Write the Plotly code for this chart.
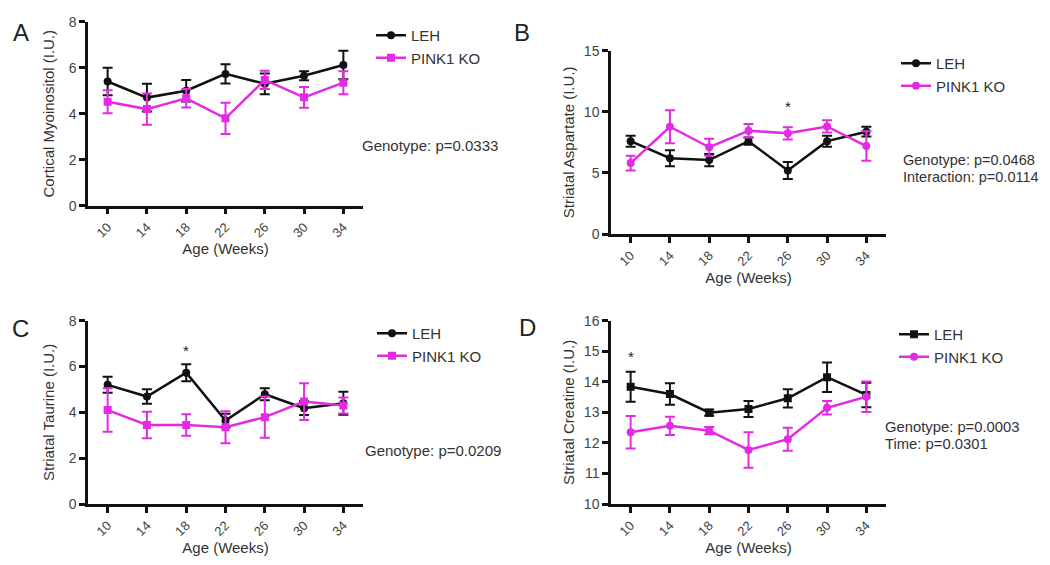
import plotly.graph_objects as go

weeks = [10, 14, 18, 22, 26, 30, 34]

# Panel A: Cortical Myoinositol
a_leh = [5.4, 4.7, 5.0, 5.73, 5.3, 5.65, 6.12]
a_leh_err = [0.6, 0.6, 0.47, 0.42, 0.45, 0.2, 0.62]
a_pink = [4.52, 4.2, 4.67, 3.8, 5.47, 4.71, 5.35]
a_pink_err = [0.5, 0.68, 0.4, 0.68, 0.4, 0.45, 0.5]

# Panel B: Striatal Aspartate
b_leh = [7.6, 6.2, 6.05, 7.6, 5.2, 7.6, 8.37]
b_leh_err = [0.45, 0.65, 0.5, 0.3, 0.7, 0.45, 0.4]
b_pink = [5.8, 8.78, 7.1, 8.45, 8.24, 8.8, 7.2]
b_pink_err = [0.6, 1.35, 0.7, 0.55, 0.5, 0.5, 1.2]

# Panel C: Striatal Taurine
c_leh = [5.2, 4.69, 5.73, 3.64, 4.79, 4.18, 4.4]
c_leh_err = [0.35, 0.32, 0.37, 0.3, 0.26, 0.3, 0.5]
c_pink = [4.1, 3.45, 3.45, 3.35, 3.79, 4.47, 4.3]
c_pink_err = [0.95, 0.58, 0.47, 0.7, 0.9, 0.8, 0.35]

# Panel D: Striatal Creatine
d_leh = [13.84, 13.6, 12.99, 13.11, 13.46, 14.15, 13.57]
d_leh_err = [0.49, 0.35, 0.1, 0.26, 0.3, 0.48, 0.4]
d_pink = [12.35, 12.56, 12.4, 11.77, 12.12, 13.15, 13.51]
d_pink_err = [0.53, 0.3, 0.12, 0.58, 0.38, 0.22, 0.5]

panel_letters = ["A", "B", "C", "D"]
y_titles = ["Cortical Myoinositol (I.U.)", "Striatal Aspartate (I.U.)",
            "Striatal Taurine (I.U.)", "Striatal Creatine (I.U.)"]
y_ranges = [[0, 8], [0, 15], [0, 8], [10, 16]]
y_dticks = [2, 5, 2, 1]
stars = [None, (26, 10.4), (18, 6.7), (10, 14.82)]
stats = [["Genotype: p=0.0333"],
         ["Genotype: p=0.0468", "Interaction: p=0.0114"],
         ["Genotype: p=0.0209"],
         ["Genotype: p=0.0003", "Time: p=0.0301"]]

# page offset (browser body margin) and figure size
OFF = 8
W, H = 1050 - 2 * OFF, 565 - 2 * OFF


def fx(px):
    return (px - OFF) / W


def fy(py):
    return 1 - (py - OFF) / H


BLACK = "#111111"
MAG = "#E32BE3"
TXT = "#333333"
FONT = "Liberation Sans, Arial, sans-serif"

# page-pixel layouts (left, right, top, bottom)
boxes = [(88, 363, 21.7, 205.7), (611, 886, 50.7, 234),
         (88, 363, 320.7, 504), (611, 886, 320.7, 504)]
leh_sym = ["circle", "circle", "circle", "square"]
pink_sym = ["square", "circle", "square", "circle"]
legend_pos = [(371, 19), (896, 47), (372, 317), (894, 318)]
stat_pos = [(360, 145), (901, 160), (363, 450), (883, 427)]
stat_size = [15, 14.5, 15, 14.8]
letter_pos = [(21, 32), (522, 32), (20, 328), (527, 327)]
ytitle_standoff = [11, 6, 11, 6]

data = [(a_leh, a_leh_err, a_pink, a_pink_err),
        (b_leh, b_leh_err, b_pink, b_pink_err),
        (c_leh, c_leh_err, c_pink, c_pink_err),
        (d_leh, d_leh_err, d_pink, d_pink_err)]

fig = go.Figure()
layout = dict(width=W, height=H, margin=dict(l=0, r=0, t=0, b=0, autoexpand=False),
              paper_bgcolor="white", plot_bgcolor="white",
              font=dict(family=FONT, color=TXT, size=14))
annotations = []

for i in range(4):
    n = "" if i == 0 else str(i + 1)
    xa, ya = "x" + n, "y" + n
    leg = "legend" + n
    le, le_e, pk, pk_e = data[i]
    fig.add_trace(go.Scatter(
        x=weeks, y=le, name="LEH", mode="lines+markers", xaxis=xa, yaxis=ya,
        legend=leg, line=dict(color=BLACK, width=2.5),
        marker=dict(color=BLACK, size=8, symbol=leh_sym[i]),
        error_y=dict(type="data", array=le_e, color=BLACK, thickness=2, width=5)))
    fig.add_trace(go.Scatter(
        x=weeks, y=pk, name="PINK1 KO", mode="lines+markers", xaxis=xa, yaxis=ya,
        legend=leg, line=dict(color=MAG, width=2.5),
        marker=dict(color=MAG, size=8, symbol=pink_sym[i]),
        error_y=dict(type="data", array=pk_e, color=MAG, thickness=2, width=5)))

    l, r, t, b = boxes[i]
    layout["xaxis" + n] = dict(
        domain=[fx(l), fx(r)], range=[8, 36], tickvals=weeks,
        ticktext=[str(w) for w in weeks], automargin=False,
        tickangle=-45, showline=True, linecolor=BLACK, linewidth=2.5, ticks="outside",
        ticklen=6, tickwidth=2.5, tickcolor=BLACK, showgrid=False, zeroline=False,
        tickfont=dict(size=13, color="#444444"), anchor=ya,
        title=dict(text="Age (Weeks)", font=dict(size=15, color=TXT), standoff=5))
    layout["yaxis" + n] = dict(
        domain=[fy(b), fy(t)], range=y_ranges[i], dtick=y_dticks[i], showline=True,
        linecolor=BLACK, linewidth=2.5, ticks="outside", ticklen=6, tickwidth=2.5,
        tickcolor=BLACK, showgrid=False, zeroline=False, anchor=xa, automargin=False,
        tickfont=dict(size=14, color="#444444"),
        title=dict(text=y_titles[i], font=dict(size=15, color=TXT),
                   standoff=ytitle_standoff[i]))
    lx, ly = legend_pos[i]
    layout[leg] = dict(x=fx(lx), y=fy(ly), xanchor="left", yanchor="top",
                       bgcolor="rgba(0,0,0,0)", font=dict(size=15, color=TXT),
                       itemwidth=30, tracegroupgap=0)
    sx, sy = stat_pos[i]
    for k, line in enumerate(stats[i]):
        annotations.append(dict(text=line, x=fx(sx), y=fy(sy + 17 * k),
                                xref="paper", yref="paper", xanchor="left",
                                yanchor="middle", align="left", showarrow=False,
                                font=dict(size=stat_size[i], color=TXT)))
    px, py = letter_pos[i]
    annotations.append(dict(text=panel_letters[i], x=fx(px), y=fy(py),
                            xref="paper", yref="paper", showarrow=False,
                            xanchor="center", yanchor="middle",
                            font=dict(size=24, color="#222222")))
    if stars[i]:
        annotations.append(dict(text="*", x=stars[i][0], y=stars[i][1], xref=xa,
                                yref=ya, showarrow=False, xanchor="center",
                                yanchor="middle",
                                font=dict(size=15, color="#222222")))

layout["annotations"] = annotations
fig.update_layout(**layout)
fig.write_html("out.html")
